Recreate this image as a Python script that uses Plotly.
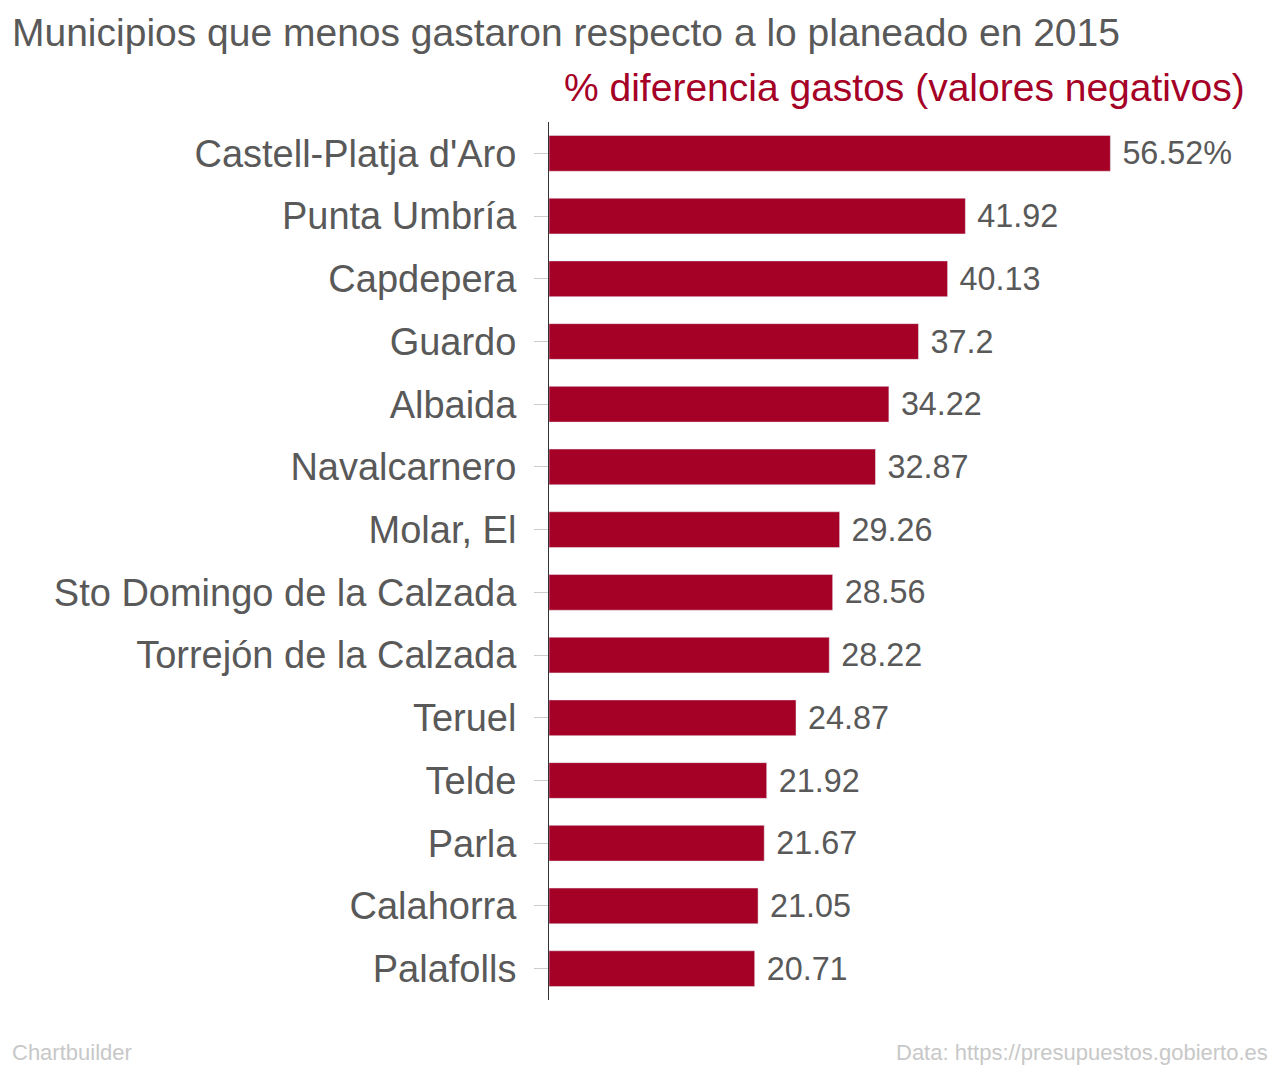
import plotly.graph_objects as go

municipios = [
    "Castell-Platja d'Aro", "Punta Umbría", "Capdepera", "Guardo", "Albaida",
    "Navalcarnero", "Molar, El", "Sto Domingo de la Calzada",
    "Torrejón de la Calzada", "Teruel", "Telde", "Parla", "Calahorra", "Palafolls",
]
diferencia = [56.52, 41.92, 40.13, 37.2, 34.22, 32.87, 29.26, 28.56, 28.22,
              24.87, 21.92, 21.67, 21.05, 20.71]
etiquetas = [" 56.52%"] + [f" {v:g}" for v in diferencia[1:]]

RED = "#a50026"
GREY = "#595959"
FONT = "Liberation Sans, Arial, sans-serif"

W, H = 1280, 1066
L, R, T, B = 541, 8, 114, 74   # page is drawn with an 8px body offset

fig = go.Figure(
    go.Bar(
        x=diferencia,
        y=municipios,
        orientation="h",
        marker_color=RED,
        width=0.57,
        text=etiquetas,
        textposition="outside",
        textfont=dict(size=38, color=GREY, family=FONT),
        cliponaxis=False,
    )
)

def px(x, y):
    # target picture pixels -> paper fractions
    return (x - 8 - L) / (W - L - R), (H - (y - 8) - B) / (H - T - B)

notes = [
    ("Municipios que menos gastaron respecto a lo planeado en 2015", 10, 33, "left", 39, GREY),
    ("% diferencia gastos (valores negativos)", 1247, 88, "right", 39, RED),
    ("Chartbuilder", 10, 1052, "left", 22, "#c8c8c8"),
    ("Data: https://presupuestos.gobierto.es", 1270, 1052, "right", 22, "#c8c8c8"),
]
annotations = []
for text, x, y, anchor, size, color in notes:
    fx, fy = px(x, y)
    annotations.append(dict(text=text, x=fx, y=fy, xref="paper", yref="paper",
                            showarrow=False, xanchor=anchor, yanchor="middle",
                            font=dict(size=size, color=color)))

fig.update_layout(
    width=W,
    height=H,
    margin=dict(l=L, r=R, t=T, b=B),
    plot_bgcolor="white",
    paper_bgcolor="white",
    showlegend=False,
    font=dict(family=FONT, color=GREY),
    xaxis=dict(range=[0, 73.6], visible=False),
    yaxis=dict(
        autorange="reversed",
        showline=True,
        linecolor="#333",
        linewidth=1,
        ticks="outside",
        ticklen=14,
        tickcolor="#cccccc",
        tickfont=dict(size=38, color=GREY),
        ticklabelstandoff=10,
    ),
    annotations=annotations,
)

fig.write_html("out.html")
